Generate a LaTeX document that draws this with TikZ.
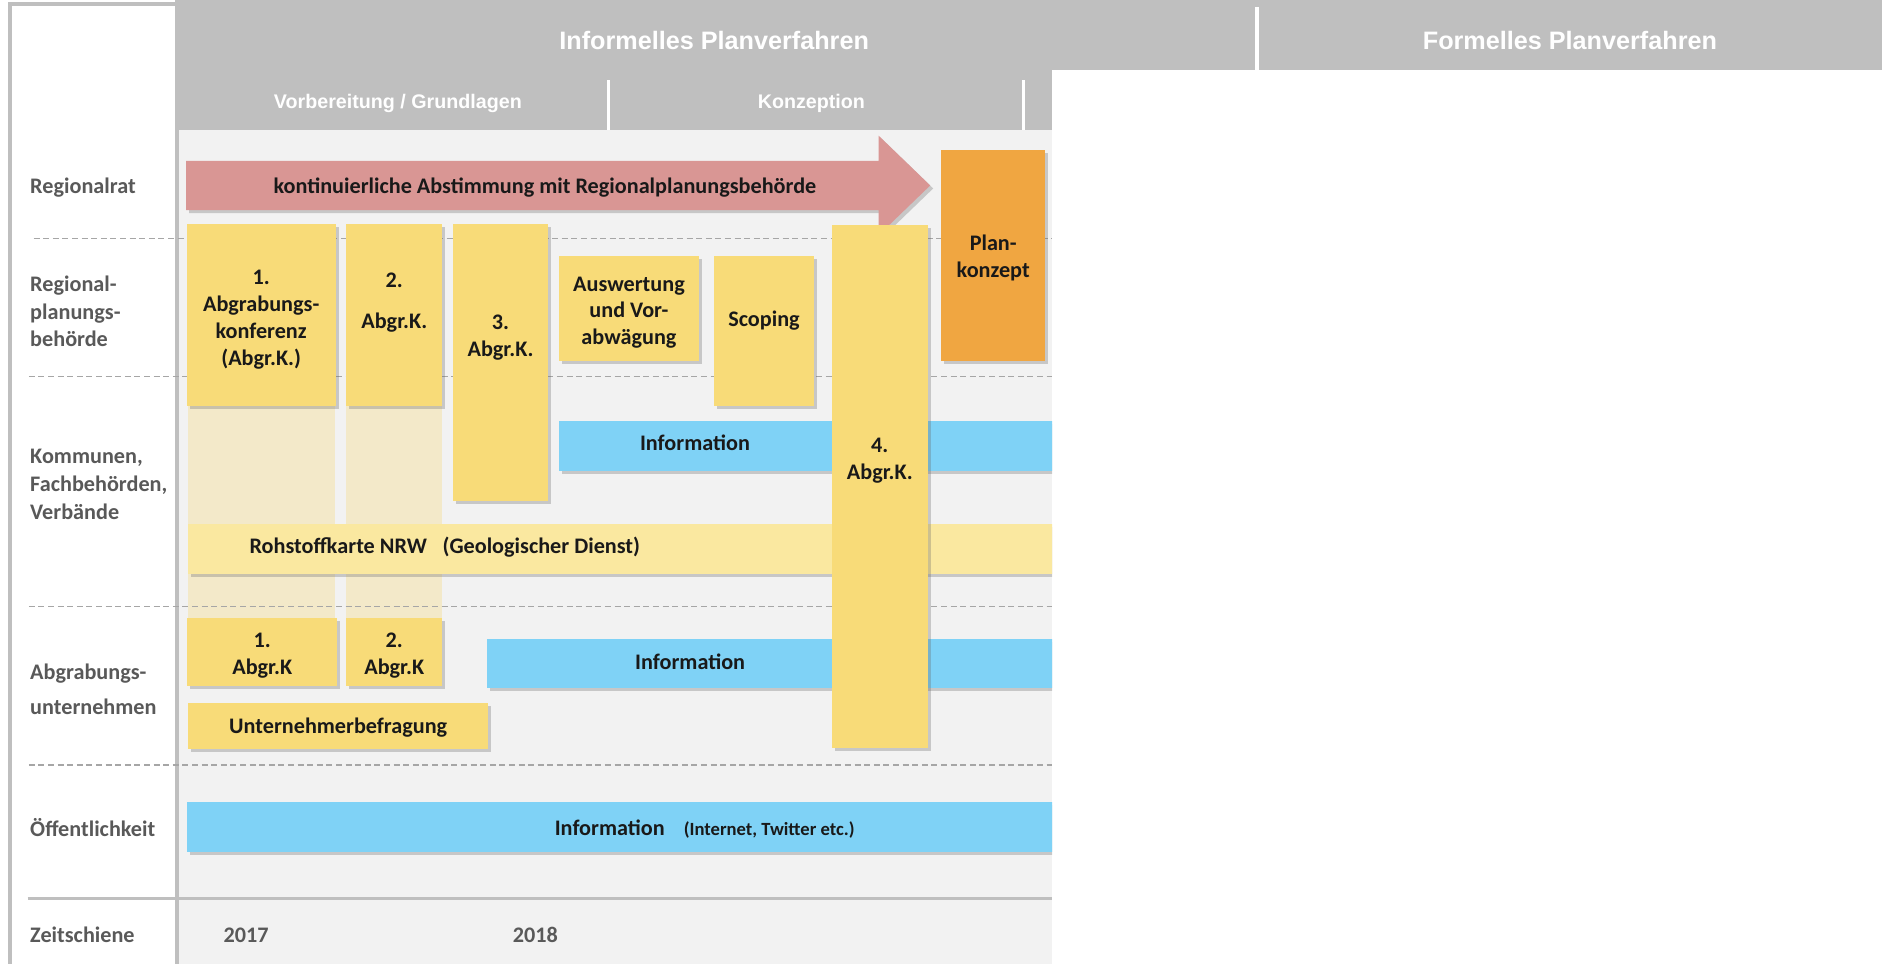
\documentclass[tikz,border=0pt]{standalone}
\usepackage{fontspec}
\setmainfont{Carlito}
\newfontfamily\headfont{Liberation Sans}
\usetikzlibrary{shadows}
\definecolor{hdr}{HTML}{BFBFBF}
\definecolor{bgc}{HTML}{F2F2F2}
\definecolor{ylw}{HTML}{F8DB78}
\definecolor{ylwlight}{HTML}{FAE8A0}
\definecolor{ylwfade}{HTML}{F3E9C9}
\definecolor{blu}{HTML}{7FD2F6}
\definecolor{org}{HTML}{F0A641}
\definecolor{rd}{HTML}{D99694}
\definecolor{lbl}{HTML}{595959}
\definecolor{dsh}{HTML}{A6A6A6}
\tikzset{
  shad/.style={drop shadow={shadow xshift=2.5pt,shadow yshift=-2.5pt,opacity=0.3,fill=black!60}},
  boxbase/.style={shad, inner sep=0pt, outer sep=0pt, draw=none, anchor=north west},
  ybox/.style={boxbase, fill=ylw},
  lybox/.style={boxbase, fill=ylwlight},
  bbox/.style={boxbase, fill=blu},
  obox/.style={boxbase, fill=org},
  boxtxt/.style={font=\fontsize{18.5}{22.4}\selectfont\bfseries, text=black!90, align=center, inner sep=0pt},
  rowlbl/.style={font=\fontsize{18.5}{23}\selectfont\bfseries, text=lbl, align=left, anchor=west, inner sep=0pt},
  yeartxt/.style={font=\fontsize{18.5}{22}\selectfont\bfseries, text=lbl, inner sep=0pt},
  hdrtxt/.style={font=\headfont\bfseries\fontsize{21}{24}\selectfont, text=white, inner sep=0pt},
  subtxt/.style={font=\headfont\bfseries\fontsize{16.4}{19}\selectfont, text=white, inner sep=0pt},
  dashline/.style={dsh, line width=1.2pt, dash pattern=on 5pt off 3pt},
}
\begin{document}
\begin{tikzpicture}[x=1pt,y=-1pt]
\useasboundingbox (0,0) rectangle (1568,803);
\fill[white] (0,0) rectangle (1568,803);
% frame and header
\draw[hdr, line width=3pt] (8.5,803) -- (8.5,3.5) -- (148,3.5);
\fill[bgc] (148,108.5) rectangle (876.5,803);
\fill[hdr] (148,0) rectangle (1568,58);
\fill[hdr] (148,58) rectangle (876.5,108.5);
\draw[white, line width=3pt] (1047.5,6) -- (1047.5,58);
\draw[white, line width=2.5pt] (507,67) -- (507,108.5);
\draw[white, line width=2.5pt] (853,67) -- (853,108.5);
\draw[hdr, line width=3pt] (147.5,0) -- (147.5,803);
\node[hdrtxt] (h1) at (595,34) {Informelles Planverfahren};
\node[hdrtxt] (h2) at (1308,34) {Formelles Planverfahren};
\node[subtxt] (s1) at (331.5,86.5) {Vorbereitung / Grundlagen};
\node[subtxt] (s2) at (676,86) {Konzeption};
% faded columns
\fill[ylwfade] (157,338) rectangle (279,514.5);
\fill[ylwfade] (288.6,338) rectangle (368.3,514.5);
% row separators
\draw[dashline] (28,198.5) -- (876.5,198.5);
\draw[dashline] (24,313.8) -- (876.5,313.8);
\draw[dashline] (24,505.5) -- (876.5,505.5);
\draw[dashline] (24,637.5) -- (876.5,637.5);
\draw[hdr, line width=3pt] (23,748.5) -- (876.5,748.5);
% row labels
\node[rowlbl] (l1) at (25,156) {Regionalrat};
\node[rowlbl] (l2) at (25,259.5) {Regional-\\planungs-\\behörde};
\node[rowlbl] (l3) at (25,403.5) {Kommunen,\\Fachbehörden,\\Verbände};
\node[rowlbl, font=\fontsize{18.5}{29}\selectfont\bfseries] (l4) at (25,574.5) {Abgrabungs-\\unternehmen};
\node[rowlbl] (l5) at (25,689.5) {Öffentlichkeit};
\node[rowlbl] (l6) at (25,779) {Zeitschiene};
\node[yeartxt] (y1) at (205,779) {2017};
\node[yeartxt] (y2) at (446,779) {2018};
% content
\begin{scope}
\clip (149,108.5) rectangle (876.5,803);
\fill[rd, shad] (155,134) -- (732,134) -- (732,113) -- (775,154.5) -- (732,196) -- (732,175) -- (155,175) -- cycle;
\node[boxtxt] (arrtxt) at (454,156) {kontinuierliche Abstimmung mit Regionalplanungsbehörde};
\node[ybox, minimum width=124.2pt, minimum height=151.3pt] (b1) at (155.5,186.7) {};
\node[boxtxt] (b1t) at (217.6,266.5) {1.\\Abgrabungs-\\konferenz\\(Abgr.K.)};
\node[ybox, minimum width=79.7pt, minimum height=151.3pt] (b2) at (288.6,186.7) {};
\node[boxtxt] (b2t) at (328.5,252) {2.\\[11.6pt]Abgr.K.};
\node[ybox, minimum width=79.3pt, minimum height=230.3pt] (b3) at (377.5,186.7) {};
\node[boxtxt] (b3t) at (417,281) {3.\\Abgr.K.};
\node[ybox, minimum width=117pt, minimum height=87.5pt] (ausw) at (465.5,213) {};
\node[boxtxt] (auswt) at (524,260.5) {Auswertung\\und Vor-\\abwägung};
\node[ybox, minimum width=83pt, minimum height=125pt] (scop) at (595,213) {};
\node[boxtxt] (scopt) at (636.5,267) {Scoping};
\node[bbox, minimum width=414.5pt, minimum height=41.5pt] (info1) at (465.5,350.5) {};
\node[boxtxt] (info1t) at (579,368.5) {Information};
\node[lybox, minimum width=723pt, minimum height=41.4pt] (roh) at (157,436.6) {};
\node[boxtxt] (roht) at (370.6,456) {Rohstoffkarte NRW\hspace{13pt}(Geologischer Dienst)};
\node[ybox, minimum width=125pt, minimum height=57pt] (a1) at (156,514.5) {};
\node[boxtxt] (a1t) at (218.5,546.5) {1.\\Abgr.K};
\node[ybox, minimum width=79.7pt, minimum height=57pt] (a2) at (288.6,514.5) {};
\node[boxtxt] (a2t) at (328.5,546.5) {2.\\Abgr.K};
\node[ybox, minimum width=249.5pt, minimum height=38.2pt] (unt) at (157,585.8) {};
\node[boxtxt] (untt) at (281.8,606.5) {Unternehmerbefragung};
\node[bbox, minimum width=474pt, minimum height=41pt] (info2) at (406,532.5) {};
\node[boxtxt] (info2t) at (575,551.3) {Information};
\node[bbox, minimum width=724.5pt, minimum height=41.1pt] (info3) at (155.5,668.5) {};
\node[boxtxt, anchor=base west] (info3t) at (462,696) {Information\hspace{16pt}{\fontsize{15.5}{17}\selectfont(Internet, Twitter etc.)}};
\node[ybox, minimum width=80pt, minimum height=435.5pt] (b4) at (693,187.5) {};
\node[boxtxt] (b4t) at (733,384) {4.\\Abgr.K.};
\node[obox, minimum width=87pt, minimum height=176pt] (plan) at (784,125) {};
\node[boxtxt] (plant) at (827.5,215) {Plan-\\konzept};
\end{scope}
\end{tikzpicture}
\end{document}
